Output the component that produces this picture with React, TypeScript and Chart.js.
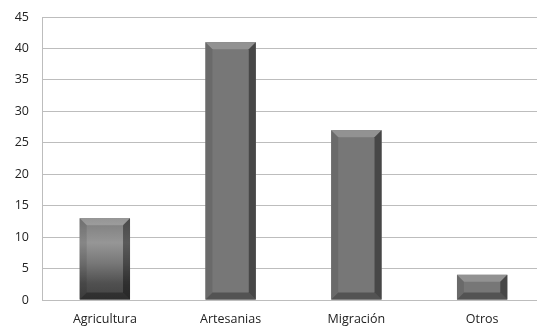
import React, { useEffect, useRef } from "react";
import { Chart, registerables } from "chart.js";

Chart.register(...registerables);

const categories = ["Agricultura", "Artesanias", "Migración", "Otros"];
const values = [13, 41, 27, 4];
const yTicks = [0, 5, 10, 15, 20, 25, 30, 35, 40, 45];

const bevelPlugin = {
  id: "bevel",
  afterDatasetsDraw(chart: any) {
    const ctx = chart.ctx;
    const meta = chart.getDatasetMeta(0);
    meta.data.forEach((bar: any, i: number) => {
      const { x, y, base, width } = bar.getProps(["x", "y", "base", "width"], true);
      const l = x - width / 2;
      const r = x + width / 2;
      const t = y;
      const bt = base;
      const h = bt - t;
      const b = Math.min(7, h / 2.5);
      ctx.save();
      if (i === 0) {
        const g = ctx.createLinearGradient(0, t, 0, bt);
        g.addColorStop(0, "#7c7c7c");
        g.addColorStop(0.3, "#969696");
        g.addColorStop(0.55, "#787878");
        g.addColorStop(0.8, "#505050");
        g.addColorStop(1, "#424242");
        ctx.fillStyle = g;
      } else {
        ctx.fillStyle = "#777777";
      }
      ctx.fillRect(l, t, width, h);
      ctx.fillStyle = "rgba(255,255,255,0.2)";
      ctx.beginPath();
      ctx.moveTo(l, t);
      ctx.lineTo(r, t);
      ctx.lineTo(r - b, t + b);
      ctx.lineTo(l + b, t + b);
      ctx.closePath();
      ctx.fill();
      ctx.fillStyle = "rgba(0,0,0,0.1)";
      ctx.beginPath();
      ctx.moveTo(l, t);
      ctx.lineTo(l + b, t + b);
      ctx.lineTo(l + b, bt - b);
      ctx.lineTo(l, bt);
      ctx.closePath();
      ctx.fill();
      ctx.fillStyle = "rgba(0,0,0,0.4)";
      ctx.beginPath();
      ctx.moveTo(r, t);
      ctx.lineTo(r - b, t + b);
      ctx.lineTo(r - b, bt - b);
      ctx.lineTo(r, bt);
      ctx.closePath();
      ctx.fill();
      ctx.fillStyle = "rgba(0,0,0,0.3)";
      ctx.beginPath();
      ctx.moveTo(l, bt);
      ctx.lineTo(l + b, bt - b);
      ctx.lineTo(r - b, bt - b);
      ctx.lineTo(r, bt);
      ctx.closePath();
      ctx.fill();
      ctx.restore();
    });
  },
};

export default function App() {
  const ref = useRef<HTMLCanvasElement>(null);
  useEffect(() => {
    const chart = new Chart(ref.current!, {
      type: "bar",
      data: {
        labels: categories,
        datasets: [
          {
            data: values,
            backgroundColor: "#777777",
            borderWidth: 0,
            barPercentage: 0.4,
            categoryPercentage: 1,
          },
        ],
      },
      options: {
        responsive: false,
        animation: false,
        layout: { padding: { top: 17, left: 0, right: 0, bottom: 0 } },
        plugins: { legend: { display: false }, tooltip: { enabled: false } },
        scales: {
          x: {
            grid: { display: false, drawTicks: false },
            border: { color: "#bdbdbd", width: 1 },
            ticks: {
              color: "#222",
              font: { family: "'Open Sans'", size: 12.5 },
              padding: 12,
              maxRotation: 0,
            },
            afterFit: (s: any) => {
              s.height = 29;
              s.paddingLeft = 0;
              s.paddingRight = 0;
            },
          },
          y: {
            min: 0,
            max: 45,
            afterBuildTicks: (s: any) => {
              s.ticks = yTicks.map((v) => ({ value: v }));
            },
            grid: { color: "#bdbdbd", drawTicks: false, lineWidth: 1 },
            border: { color: "#bdbdbd", width: 1 },
            ticks: {
              color: "#222",
              font: { family: "'Open Sans'", size: 12.5 },
              padding: 13,
            },
            afterFit: (s: any) => {
              s.width = 42;
              s.paddingTop = 0;
              s.paddingBottom = 0;
            },
          },
        },
      },
      plugins: [bevelPlugin],
    });
    return () => chart.destroy();
  }, []);
  return (
    <div
      style={{
        position: "fixed",
        left: 0,
        top: 0,
        width: 537,
        height: 329,
        overflow: "hidden",
        background: "#fff",
      }}
    >
      <canvas ref={ref} width={545} height={329} />
    </div>
  );
}
